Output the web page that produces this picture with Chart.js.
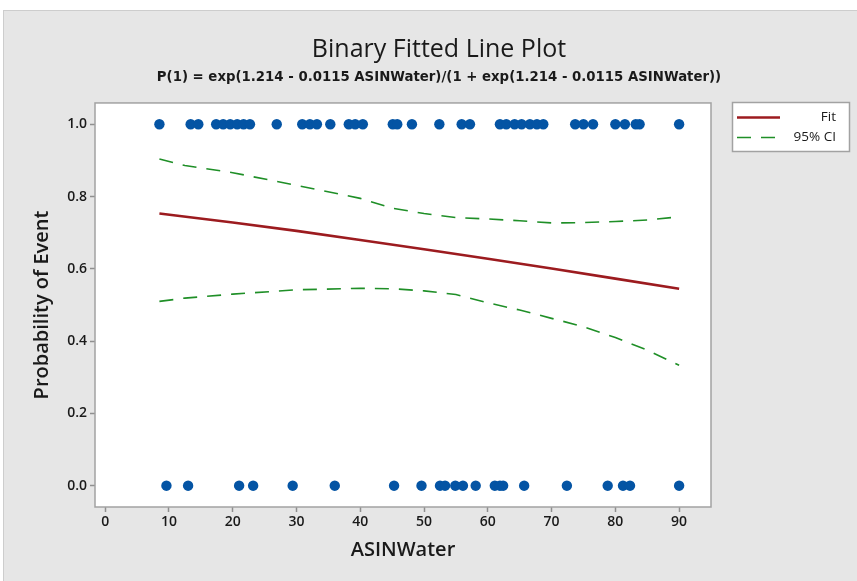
<!doctype html>
<html lang="en">

<head>
  <title>Binary Fitted Line Plot</title>
  <meta charset="utf-8">
  <style>
    body { margin: 0; background: #fff; }
  </style>
</head>

<body>
  <canvas id="grafico" width="857" height="581"></canvas>

  <script src="https://cdn.jsdelivr.net/npm/chart.js"></script>

  <script>
    // ASINWater values of the observations (event = 1 / event = 0)
    const xEvent = [8.5, 13.4, 14.6, 17.4, 18.5, 19.6, 20.7, 21.7, 22.7, 26.9, 30.9, 32.1, 33.2,
      35.3, 38.2, 39.2, 40.4, 45.1, 45.8, 48.1, 52.4, 55.9, 57.2, 61.9, 62.9, 64.2, 65.3, 66.6,
      67.7, 68.7, 73.7, 75.0, 76.5, 80.0, 81.5, 83.2, 83.8, 90.0];
    const xNoEvent = [9.6, 13.0, 21.0, 23.2, 29.4, 36.0, 45.3, 49.6, 52.5, 53.3, 54.9, 56.1,
      58.1, 61.1, 61.9, 62.4, 65.7, 72.4, 78.8, 81.2, 82.3, 90.0];

    // fitted probability
    const fitX = [8.5, 20, 30, 40, 50, 60, 70, 80, 90];
    const fitP = [0.753, 0.728, 0.705, 0.680, 0.654, 0.628, 0.601, 0.573, 0.545];

    // 95% confidence band
    const ciX = [8.5, 12.5, 20, 30, 40, 45, 50, 55, 60, 65, 70, 75, 80, 85, 90];
    const ciUpper = [0.904, 0.886, 0.866, 0.831, 0.795, 0.768, 0.753, 0.742, 0.738, 0.733, 0.727, 0.728, 0.731, 0.735, 0.744];
    const ciLower = [0.510, 0.519, 0.530, 0.542, 0.546, 0.545, 0.539, 0.529, 0.506, 0.486, 0.463, 0.440, 0.410, 0.375, 0.333];

    const xTicks = [0, 10, 20, 30, 40, 50, 60, 70, 80, 90];
    const yTicks = [0, 0.2, 0.4, 0.6, 0.8, 1.0];

    const azul = '#0454a4';
    const rojo = '#9c1b1f';
    const verde = '#1f8f27';
    const texto = '#1a1a1a';
    const fuente = "'Open Sans', 'Noto Sans', sans-serif";

    const pares = (xs, ys) => xs.map((x, i) => ({ x: x, y: ys[i] }));

    // panel gris, area blanca, borde y leyenda
    const marco = {
      id: 'marco',
      beforeDraw(chart) {
        const { ctx, chartArea: a } = chart;
        ctx.save();
        ctx.fillStyle = '#fff';
        ctx.fillRect(0, 0, chart.width, chart.height);
        ctx.fillStyle = '#e6e6e6';
        ctx.fillRect(3, 10, chart.width - 3, chart.height - 10);
        ctx.strokeStyle = '#cdcdcd';
        ctx.lineWidth = 1;
        ctx.strokeRect(3.5, 10.5, chart.width, chart.height);
        ctx.fillStyle = '#fff';
        ctx.fillRect(a.left, a.top, a.right - a.left, a.bottom - a.top);
        ctx.restore();
      },
      afterDraw(chart) {
        const { ctx, chartArea: a } = chart;
        ctx.save();
        ctx.strokeStyle = '#a2a2a2';
        ctx.lineWidth = 1.5;
        ctx.strokeRect(a.left, a.top, a.right - a.left, a.bottom - a.top);

        // leyenda
        const lx = 732, ly = 102, lw = 117, lh = 49;
        ctx.fillStyle = '#fff';
        ctx.fillRect(lx, ly, lw, lh);
        ctx.strokeStyle = '#a2a2a2';
        ctx.strokeRect(lx + 0.5, ly + 0.5, lw, lh);

        ctx.lineWidth = 2.6;
        ctx.strokeStyle = rojo;
        ctx.beginPath();
        ctx.moveTo(737, 117.5);
        ctx.lineTo(780, 117.5);
        ctx.stroke();

        ctx.lineWidth = 1.6;
        ctx.strokeStyle = verde;
        ctx.setLineDash([14, 10]);
        ctx.beginPath();
        ctx.moveTo(737, 137.5);
        ctx.lineTo(780, 137.5);
        ctx.stroke();
        ctx.setLineDash([]);

        ctx.fillStyle = texto;
        ctx.font = "13.5px " + fuente;
        ctx.textAlign = 'right';
        ctx.textBaseline = 'middle';
        ctx.fillText(chart.data.datasets[2].label, 836, 117);
        ctx.fillText(chart.data.datasets[3].label, 836, 137);
        ctx.restore();
      }
    };

    new Chart(document.getElementById('grafico'), {
      type: 'scatter',
      data: {
        datasets: [
          {
            label: 'Event',
            data: xEvent.map(x => ({ x: x, y: 1 })),
            backgroundColor: azul,
            borderWidth: 0,
            pointRadius: 5.2
          },
          {
            label: 'No event',
            data: xNoEvent.map(x => ({ x: x, y: 0 })),
            backgroundColor: azul,
            borderWidth: 0,
            pointRadius: 5.2
          },
          {
            label: 'Fit',
            data: pares(fitX, fitP),
            showLine: true,
            borderColor: rojo,
            borderWidth: 2.6,
            pointRadius: 0,
            tension: 0
          },
          {
            label: '95% CI',
            data: pares(ciX, ciUpper),
            showLine: true,
            borderColor: verde,
            borderWidth: 1.6,
            borderDash: [14, 10],
            pointRadius: 0,
            tension: 0
          },
          {
            label: '95% CI lower',
            data: pares(ciX, ciLower),
            showLine: true,
            borderColor: verde,
            borderWidth: 1.6,
            borderDash: [14, 10],
            pointRadius: 0,
            tension: 0
          }
        ]
      },
      plugins: [marco],
      options: {
        responsive: false,
        animation: false,
        devicePixelRatio: 1,
        layout: { padding: { left: 21, right: 0, top: 0, bottom: 0 } },
        scales: {
          x: {
            type: 'linear',
            min: -1.6,
            max: 95,
            afterBuildTicks: s => { s.ticks = xTicks.map(v => ({ value: v })); },
            afterFit: s => { s.height = 74; },
            border: { display: false },
            grid: { drawOnChartArea: false, drawTicks: true, tickLength: 5, tickWidth: 1.5, tickColor: '#8f8f8f' },
            ticks: { color: texto, padding: 2, font: { family: fuente, size: 14, weight: '600' } },
            title: {
              display: true,
              text: 'ASINWater',
              color: texto,
              padding: { bottom: 19 },
              font: { family: fuente, size: 20, weight: '600' }
            }
          },
          y: {
            type: 'linear',
            min: -0.059,
            max: 1.059,
            afterBuildTicks: s => { s.ticks = yTicks.map(v => ({ value: v })); },
            afterFit: s => { s.width = 74; },
            border: { display: false },
            grid: { drawOnChartArea: false, drawTicks: true, tickLength: 5, tickWidth: 1.5, tickColor: '#8f8f8f' },
            ticks: {
              color: texto,
              padding: 3,
              font: { family: fuente, size: 14, weight: '600' },
              callback: v => v.toFixed(1)
            },
            title: {
              display: true,
              text: 'Probability of Event',
              color: texto,
              padding: { top: 9 },
              font: { family: fuente, size: 20, weight: '600' }
            }
          },
          // espacio para la leyenda
          derecha: {
            type: 'linear',
            position: 'right',
            min: 0,
            max: 1,
            afterFit: s => { s.width = 146; },
            border: { display: false },
            grid: { display: false },
            ticks: { display: false }
          }
        },
        plugins: {
          legend: { display: false },
          tooltip: { enabled: false },
          title: {
            display: true,
            text: 'Binary Fitted Line Plot',
            color: texto,
            padding: { top: 35, bottom: 5 },
            font: { family: fuente, size: 25, weight: '500' }
          },
          subtitle: {
            display: true,
            text: 'P(1) = exp(1.214 - 0.0115 ASINWater)/(1 + exp(1.214 - 0.0115 ASINWater))',
            color: texto,
            padding: { top: 0, bottom: 17 },
            font: { family: "'DejaVu Sans', sans-serif", size: 13.3, weight: 'bold' }
          }
        }
      }
    });
  </script>
</body>

</html>
